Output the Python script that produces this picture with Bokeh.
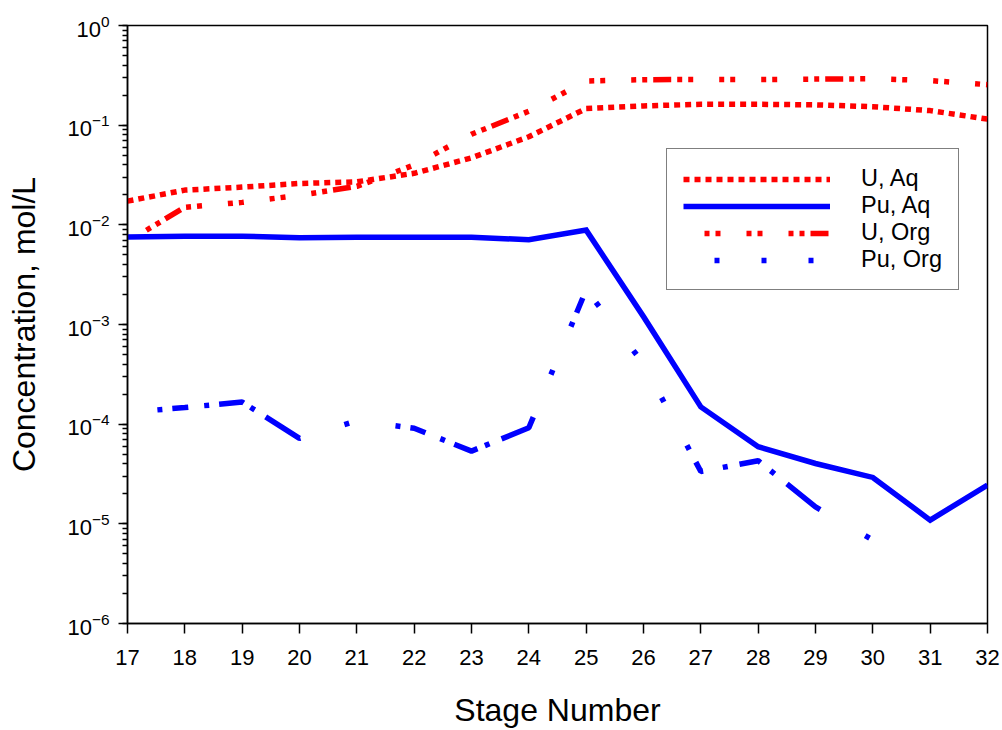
import math
from bokeh.plotting import figure
from bokeh.models import Legend, LegendItem, FixedTicker, LogTicker, Range1d
from bokeh.embed import file_html
from bokeh.resources import INLINE

# ---- data ----
stages = [17, 18, 19, 20, 21, 22, 23, 24, 25, 26, 27, 28, 29, 30, 31, 32]
u_aq = [0.0173, 0.0223, 0.0239, 0.0260, 0.0270, 0.0329, 0.0470, 0.0765,
        0.147, 0.156, 0.162, 0.162, 0.160, 0.153, 0.140, 0.115]
pu_aq = [0.00753, 0.0077, 0.0077, 0.0074, 0.0075, 0.0075, 0.0075, 0.0071,
         0.00885, 0.0012, 1.49e-4, 5.94e-5, 4.03e-5, 2.92e-5, 1.09e-5, 2.45e-5]
u_org = [0.0068, 0.0150, 0.0168, 0.0198, 0.0243, 0.0398, 0.081, 0.138,
         0.277, 0.286, 0.287, 0.287, 0.290, 0.292, 0.280, 0.255]
org_stages = [17, 18, 19, 20, 21, 22, 23, 24, 25, 26, 27, 28, 29, 30]
pu_org = [1.31e-4, 1.47e-4, 1.67e-4, 7.2e-5, 1.08e-4, 9.1e-5, 5.37e-5, 9.2e-5,
          2.23e-3, 4.05e-4, 3.35e-5, 4.3e-5, 1.48e-5, 6.9e-6]

x_ticks = list(range(17, 33))

series_labels = ["U, Aq", "Pu, Aq", "U, Org", "Pu, Org"]

RED = "#FF0000"
BLUE = "#0000FF"
LW = 5.5
FONT = "Liberation Sans"

DASH_U_AQ = "6 5"
DASH_U_ORG = "5 6 5 6 18 6 5 6 5 26 5 6 5 26 5 6 5 26"
DASH_PU_ORG_A = "5 10 16 16 5 10 25 8 5 13 41 46 5 47"
DASH_PU_ORG_B = "5 56 5 50 5 49 5 14 13 20 5 12 22 13 5 16 42 52 5 100"

p = figure(width=1002, height=730,
           x_range=Range1d(17, 32), y_range=Range1d(1e-6, 1.0),
           y_axis_type="log", output_backend="svg", toolbar_location=None,
           min_border_left=127, min_border_right=15,
           min_border_top=25, min_border_bottom=103)
p.grid.visible = False
p.background_fill_color = "white"
p.border_fill_color = "white"
p.outline_line_color = "black"
p.outline_line_width = 1.5
p.outline_line_alpha = 1.0

# axes
p.xaxis.ticker = FixedTicker(ticks=x_ticks)
p.yaxis.ticker = LogTicker(desired_num_ticks=7, num_minor_ticks=10)
for ax in (p.xaxis, p.yaxis):
    ax.axis_line_color = "black"
    ax.axis_line_width = 1.5
    ax.major_tick_line_color = "black"
    ax.major_tick_line_width = 1.5
    ax.minor_tick_line_color = "black"
    ax.minor_tick_line_width = 1.5
    ax.major_tick_in = 0
    ax.minor_tick_in = 0
    ax.major_label_text_font = FONT
    ax.major_label_text_font_size = "22px"
    ax.major_label_text_color = "black"
    ax.axis_label_text_font = FONT
    ax.axis_label_text_font_size = "32px"
    ax.axis_label_text_font_style = "normal"
    ax.axis_label_text_color = "black"
p.xaxis.major_tick_out = 10
p.xaxis.minor_tick_out = 0
p.xaxis.major_label_standoff = 16
p.xaxis.axis_label = "Stage Number"
p.xaxis.axis_label_standoff = 24
p.xaxis.axis_label_text_line_height = 0.6
p.yaxis.major_tick_out = 9
p.yaxis.minor_tick_out = 5
p.yaxis.major_label_standoff = 9
p.yaxis.axis_label = "Concentration, mol/L"
p.yaxis.axis_label_standoff = 22

# data lines
p.line(stages, u_aq, line_color=RED, line_width=LW, line_dash=DASH_U_AQ)
p.line(stages, pu_aq, line_color=BLUE, line_width=LW, line_join="miter")
p.line(stages, u_org, line_color=RED, line_width=LW,
       line_dash=DASH_U_ORG, line_dash_offset=150)
# Pu, Org: the dash pattern restarts at the peak (stage 25) in the reference
k = org_stages.index(25)
p.line(org_stages[:k + 1], pu_org[:k + 1], line_color=BLUE, line_width=LW,
       line_dash=DASH_PU_ORG_A, line_dash_offset=222)
p.line(org_stages[k:], pu_org[k:], line_color=BLUE, line_width=LW,
       line_dash=DASH_PU_ORG_B, line_dash_offset=478)

# legend-only renderers (no visible data)
nan = [float("nan")]
l1 = p.line(nan, nan, line_color=RED, line_width=LW, line_dash=DASH_U_AQ)
l2 = p.line(nan, nan, line_color=BLUE, line_width=LW)
l3 = p.line(nan, nan, line_color=RED, line_width=LW,
            line_dash=DASH_U_ORG, line_dash_offset=67)
l4 = p.line(nan, nan, line_color=BLUE, line_width=LW,
            line_dash="5 42", line_dash_offset=16)

legend = Legend(items=[LegendItem(label=series_labels[0], renderers=[l1]),
                       LegendItem(label=series_labels[1], renderers=[l2]),
                       LegendItem(label=series_labels[2], renderers=[l3]),
                       LegendItem(label=series_labels[3], renderers=[l4])],
                location=(539, 333), margin=0, padding=16, spacing=0,
                glyph_width=147, glyph_height=26, label_height=26,
                label_standoff=31,
                label_text_font=FONT, label_text_font_size="23.5px",
                label_text_line_height=1.0,
                label_text_color="black",
                border_line_color="black", border_line_width=1.5,
                background_fill_color="white", background_fill_alpha=1.0)
p.add_layout(legend, "center")

open("out.html", "w").write(file_html(p, INLINE))
